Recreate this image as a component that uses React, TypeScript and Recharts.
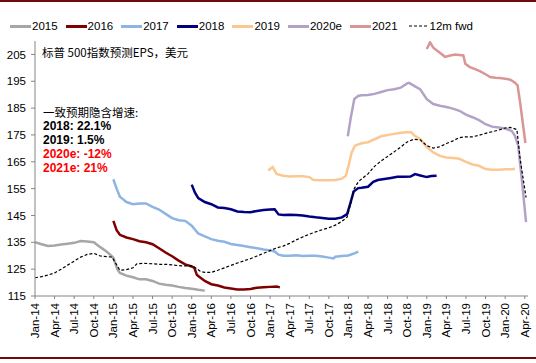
import { Line, LineChart, XAxis, YAxis } from "recharts";

// [months since Jan-14, EPS in USD]
type Pt = [number, number];

const quarterLabels = [
  "Jan-14", "Apr-14", "Jul-14", "Oct-14",
  "Jan-15", "Apr-15", "Jul-15", "Oct-15",
  "Jan-16", "Apr-16", "Jul-16", "Oct-16",
  "Jan-17", "Apr-17", "Jul-17", "Oct-17",
  "Jan-18", "Apr-18", "Jul-18", "Oct-18",
  "Jan-19", "Apr-19", "Jul-19", "Oct-19",
  "Jan-20", "Apr-20"
];
const quarterTicks = [0, 3, 6, 9, 12, 15, 18, 21, 24, 27, 30, 33, 36, 39, 42, 45, 48, 51, 54, 57, 60, 63, 66, 69, 72, 75];
const yTicks = [115, 125, 135, 145, 155, 165, 175, 185, 195, 205];

const eps2015: Pt[] = [
  [0, 135], [1, 134.3], [2, 133.6], [3, 133.8], [4, 134.2], [5, 134.5], [6, 134.8], [7, 135.5],
  [8, 135.3], [9, 135], [10, 133.2], [11, 131.5], [12, 129.3], [12.6, 125], [13, 123.6], [14, 122.6],
  [15, 122], [16, 121.2], [17, 121.2], [18, 120.6], [19, 119.6], [20, 119.2], [21, 118.9], [22, 118.4],
  [23, 118], [24, 117.7], [25, 117.3], [26, 117]
];

const eps2016: Pt[] = [
  [12, 143], [12.5, 139.5], [13, 137.8], [14, 136.8], [15, 136.2], [16, 135.4], [17, 135], [18, 134.3],
  [19, 132.8], [20, 131.2], [21, 129.8], [22, 128.2], [23, 126.8], [24, 126], [24.4, 125.5], [24.8, 122.8],
  [25.5, 121.5], [26, 120.6], [27, 119.4], [28, 118.9], [29, 118.2], [30, 117.8], [31, 117.4], [32, 117.4],
  [33, 117.6], [34, 118.1], [35, 118.3], [36, 118.4], [37, 118.5], [37.5, 118.2]
];

const eps2017: Pt[] = [
  [12, 158.5], [12.5, 155], [13, 152], [13.5, 151], [14, 150], [15, 149.2], [16, 149.5], [17, 149.5],
  [18, 148.2], [19, 147.2], [20, 145.6], [21, 144], [22, 143.2], [23, 143], [24, 141.2], [25, 138.3],
  [26, 137.2], [27, 136.2], [28, 135.6], [29, 135.2], [30, 134.4], [31, 134], [32, 133.6], [33, 133.2],
  [34, 132.8], [35, 132.3], [36, 132], [36.7, 131.6], [37.3, 130.4], [38, 130], [39, 130], [40, 130.2],
  [41, 129.9], [42, 130], [43, 130], [44, 129.7], [45, 129.3], [45.7, 129], [46, 129.6], [47, 129.9],
  [48, 130.1], [49, 131], [49.5, 131.5]
];

const eps2018: Pt[] = [
  [24, 156.5], [24.5, 153.5], [25, 151.5], [26, 150], [27, 149.2], [28, 148], [29, 147.8], [30, 147.3],
  [31, 146.5], [32, 146.3], [33, 146.2], [34, 146.7], [35, 147], [36, 147.2], [36.7, 147.3], [37.3, 145.4],
  [38, 145.2], [39, 145.3], [40, 145.2], [41, 145], [42, 144.6], [43, 144.3], [44, 144.1], [45, 143.8],
  [46, 143.8], [47, 144.3], [47.8, 145.5], [48.3, 149.6], [48.8, 153.9], [49.5, 155.2], [50, 155.3],
  [51, 155.7], [51.8, 157.5], [52.5, 158.2], [53.5, 158.6], [54.5, 159], [55.5, 159.4], [56.5, 159.4],
  [57.5, 159.5], [58.2, 160.4], [59, 159.9], [60, 159.3], [60.7, 159.7], [61.5, 159.8]
];

const eps2019: Pt[] = [
  [35.7, 161.8], [36.4, 163], [37, 160.5], [38, 159.8], [39, 159.5], [40, 159.6], [41, 159.6], [42, 159.3],
  [42.6, 158.3], [43, 158.2], [44, 158.1], [45, 158.1], [46, 158.2], [47, 158.7], [47.6, 159.8], [48, 163.4],
  [48.5, 168.5], [49, 171], [50, 171.9], [51, 172.3], [52, 173.4], [53, 174.5], [54, 175], [55, 175.4],
  [56, 175.8], [57, 176], [57.6, 176], [58, 175], [59, 173.4], [60, 170.5], [61, 168.5], [62, 167.2],
  [63, 166.6], [64, 166.4], [65, 166.1], [66, 165], [67, 164], [68, 163.5], [69, 162.3], [70, 162],
  [71, 162], [72, 162.2], [73, 162.2], [73.5, 162.4]
];

const eps2020e: Pt[] = [
  [47.9, 174.5], [48.4, 182], [48.9, 188.4], [49.5, 189.5], [50, 189.8], [51, 189.9], [52, 190.3], [53, 191],
  [54, 191.7], [55, 192], [56, 192.6], [57, 194.2], [57.3, 194.4], [58, 193.4], [59, 192], [60, 188.3],
  [61, 186.5], [62, 185.9], [63, 185.4], [64, 184.8], [65, 184], [66, 182.6], [67, 181.6], [68, 180.5],
  [69, 179], [70, 178.1], [71, 177.8], [72, 177.4], [73, 176.5], [73.5, 174.7], [74, 171], [74.6, 157.3],
  [75.2, 142.5]
];

const eps2021: Pt[] = [
  [60, 207], [60.5, 209.5], [61, 207.5], [62, 205.6], [62.8, 204.1], [63.6, 204.6], [64.3, 205], [65.6, 204.6],
  [65.9, 201.5], [66.6, 200.3], [67.4, 199.5], [68.2, 198.7], [69, 197.6], [69.7, 196.6], [70.5, 196.3],
  [71.2, 196.2], [72, 195.9], [72.8, 195.6], [73.5, 194.5], [73.9, 193.5], [74.3, 187], [75.1, 172]
];

const fwd12m: Pt[] = [
  [0, 121.8], [1, 122.2], [2, 122.8], [3, 123.6], [4, 125], [5, 126.5], [6, 128], [7, 129.5], [8, 130.5],
  [9, 130.9], [10, 129.9], [11, 129.7], [11.8, 129.5], [12.4, 127], [13, 124.6], [14, 124.8], [15, 125.5],
  [15.6, 127], [16.5, 127.2], [18, 127], [19, 126.8], [20, 126.8], [21, 126.6], [22, 126.3], [23, 126.2],
  [24.2, 126.2], [25.3, 124.2], [26, 123.8], [27, 123.8], [28, 124.6], [29, 125.5], [30, 126.4], [31, 127.3],
  [32, 128.1], [33, 128.9], [34, 129.9], [35, 130.9], [36, 131.9], [37, 132.9], [38, 133.6], [39, 134.6],
  [40, 135.9], [41, 137], [42, 138], [43, 138.9], [44, 139.7], [45, 140.4], [46, 141.4], [47, 142.8],
  [47.8, 144.4], [48.3, 149], [48.8, 154.6], [49.5, 157.5], [50, 158.6], [51, 160.5], [52, 163.3], [53, 165.3],
  [54, 167], [55, 168.7], [56, 170.5], [57, 172.4], [58, 173.4], [59, 173.2], [60, 171], [61, 170.1],
  [62, 170.6], [63, 171.8], [64, 172.8], [65, 174], [66, 174.3], [67, 174.3], [68, 174.9], [69, 175.6],
  [70, 176.2], [71, 176.8], [72, 177.6], [72.8, 177.8], [73.8, 177], [74.3, 166], [74.8, 158], [75.2, 151.7]
];

const growthNotes = [
  { text: "2018: 22.1%", color: "#000" },
  { text: "2019: 1.5%", color: "#000" },
  { text: "2020e: -12%", color: "#FF0000" },
  { text: "2021e: 21%", color: "#FF0000" }
];

const series = [
  { name: "2015", color: "#A6A6A6", pts: eps2015 },
  { name: "2016", color: "#7F0000", pts: eps2016 },
  { name: "2017", color: "#8DB4E2", pts: eps2017 },
  { name: "2018", color: "#000080", pts: eps2018 },
  { name: "2019", color: "#FCC891", pts: eps2019 },
  { name: "2020e", color: "#B3A2C7", pts: eps2020e },
  { name: "2021", color: "#D99694", pts: eps2021 }
];

const toRows = (pts: Pt[]) => pts.map(([m, v]) => ({ m, v }));

const FONT = "'Liberation Sans', Arial, sans-serif";
const CJK = "'Noto Sans CJK SC', sans-serif";

function QuarterTick({ x, y, payload }: any) {
  const label = quarterLabels[quarterTicks.indexOf(payload.value)];
  return (
    <g transform={`translate(${x},${y})`}>
      <text
        transform="rotate(-90)"
        x={-4}
        dy="0.35em"
        textAnchor="end"
        fontSize={11.5}
        fontFamily={FONT}
        fill="#000"
      >
        {label}
      </text>
    </g>
  );
}

function LegendRow() {
  return (
    <div
      style={{
        position: "absolute",
        left: 10,
        top: 18,
        display: "flex",
        alignItems: "center",
        gap: 8,
        fontFamily: FONT,
        fontSize: 11.5,
        lineHeight: "16px",
        color: "#000"
      }}
    >
      {series.map((s) => (
        <div key={s.name} style={{ display: "flex", alignItems: "center" }}>
          <span style={{ width: 21, height: 3, background: s.color, display: "inline-block" }} />
          <span style={{ marginLeft: 1 }}>{s.name}</span>
        </div>
      ))}
      <div style={{ display: "flex", alignItems: "center", marginLeft: 3 }}>
        <svg width={20} height={4}>
          <line x1={0} y1={2} x2={20} y2={2} stroke="#000" strokeWidth={1.2} strokeDasharray="3 2" />
        </svg>
        <span style={{ marginLeft: 1 }}>12m fwd</span>
      </div>
    </div>
  );
}

export default function App() {
  return (
    <div style={{ position: "absolute", left: 0, top: 0, width: 536, height: 363, background: "#fff" }}>
      <div style={{ position: "absolute", left: 0, top: 0, width: 536, height: 2, background: "#6E0B0B" }} />
      <div style={{ position: "absolute", left: 0, top: 357, width: 536, height: 2, background: "#6E0B0B" }} />
      <LegendRow />
      <LineChart width={536} height={363} margin={{ top: 41, right: 8, bottom: 17, left: 0 }}>
        <XAxis
          type="number"
          dataKey="m"
          domain={[0, 75.5]}
          ticks={quarterTicks}
          interval={0}
          tick={<QuarterTick />}
          tickSize={3}
          tickMargin={0}
          height={50}
          stroke="#868686"
          allowDataOverflow
        />
        <YAxis
          type="number"
          domain={[115, 210]}
          ticks={yTicks}
          interval={0}
          width={35}
          tickSize={4}
          tickMargin={5}
          stroke="#868686"
          tick={{ fontSize: 11.5, fontFamily: FONT, fill: "#000" }}
          allowDataOverflow
        />
        {series.map((s) => (
          <Line
            key={s.name}
            data={toRows(s.pts)}
            dataKey="v"
            type="linear"
            stroke={s.color}
            strokeWidth={2.5}
            dot={false}
            isAnimationActive={false}
          />
        ))}
        <Line
          data={toRows(fwd12m)}
          dataKey="v"
          type="linear"
          stroke="#000"
          strokeWidth={1.2}
          strokeDasharray="3 2"
          dot={false}
          isAnimationActive={false}
        />
      </LineChart>
      <div
        style={{
          position: "absolute",
          left: 42,
          top: 44,
          fontFamily: CJK,
          fontSize: 11.5,
          lineHeight: "16px",
          color: "#000",
          whiteSpace: "nowrap"
        }}
      >
        标普 500指数预测EPS，美元
      </div>
      <div
        style={{
          position: "absolute",
          left: 43,
          top: 105,
          fontFamily: CJK,
          fontSize: 11.5,
          lineHeight: "15px",
          color: "#000",
          whiteSpace: "nowrap"
        }}
      >
        一致预期隐含增速:
      </div>
      <div style={{ position: "absolute", left: 43, top: 120, whiteSpace: "nowrap" }}>
        {growthNotes.map((n) => (
          <div
            key={n.text}
            style={{ fontFamily: FONT, fontSize: 12, fontWeight: 700, lineHeight: "13.9px", color: n.color }}
          >
            {n.text}
          </div>
        ))}
      </div>
    </div>
  );
}
